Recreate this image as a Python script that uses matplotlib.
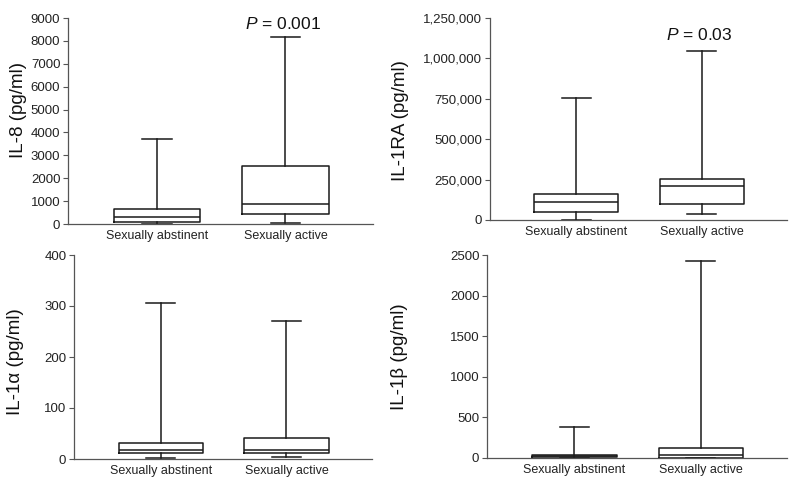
import matplotlib
matplotlib.use("Agg")
import matplotlib.pyplot as plt
from matplotlib.ticker import FuncFormatter, MultipleLocator

plt.rcParams['font.family'] = ['Liberation Sans', 'DejaVu Sans']
plt.rcParams['mathtext.fontset'] = 'custom'
plt.rcParams['mathtext.rm'] = 'Liberation Sans'
plt.rcParams['mathtext.it'] = 'Liberation Sans:italic'

groups = ["Sexually abstinent", "Sexually active"]

# [whislo, q1, median, q3, whishi]
il8_abstinent = [20, 100, 320, 650, 3700]
il8_active = [30, 450, 880, 2540, 8150]
il1ra_abstinent = [0, 50000, 109000, 159000, 755000]
il1ra_active = [36000, 99000, 212000, 254000, 1045000]
il1a_abstinent = [1, 12, 18, 31, 306]
il1a_active = [4.7, 12.5, 18, 41, 270]
il1b_abstinent = [3, 8, 20, 36, 377]
il1b_active = [4, 6, 40, 122, 2420]

ylabels = ["IL-8 (pg/ml)", "IL-1RA (pg/ml)", "IL-1α (pg/ml)", "IL-1β (pg/ml)"]
ymax = [9000, 1250000, 400, 2500]
ystep = [1000, 250000, 100, 500]
pvals = ["$\\it{P}$ = 0.001", "$\\it{P}$ = 0.03", None, None]
p_y = [8730, 1145000, None, None]

panels = [(il8_abstinent, il8_active), (il1ra_abstinent, il1ra_active),
          (il1a_abstinent, il1a_active), (il1b_abstinent, il1b_active)]

W, H = 800, 483
rects = [(68, 373, 224, 18), (490, 787, 220, 18), (74, 372, 459, 255), (487, 787, 458, 255)]
label_xy = [(-0.134, 0.553), (-0.273, 0.49), (-0.168, 0.475), (-0.263, 0.50)]

fig = plt.figure(figsize=(W / 100, H / 100), dpi=100)
line_col = '#1a1a1a'
for i, ((a, b), (l, r, bot, top)) in enumerate(zip(panels, rects)):
    ax = fig.add_axes([l / W, 1 - bot / H, (r - l) / W, (bot - top) / H])
    stats = []
    for vals, name in zip((a, b), groups):
        lo, q1, med, q3, hi = vals
        stats.append(dict(whislo=lo, q1=q1, med=med, q3=q3, whishi=hi, fliers=[], label=name))
    lp = dict(color=line_col, linewidth=1.1)
    ax.bxp(stats, positions=[1, 2], widths=0.67, showfliers=False,
           boxprops=lp, whiskerprops=lp, capprops=lp, medianprops=lp,
           capwidths=0.23)
    ax.set_xlim(0.31, 2.68)
    ax.set_ylim(0, ymax[i])
    ax.yaxis.set_major_locator(MultipleLocator(ystep[i]))
    if i == 1:
        ax.yaxis.set_major_formatter(FuncFormatter(lambda v, p: f"{int(v):,}"))
    for s in ['top', 'right']:
        ax.spines[s].set_visible(False)
    for s in ['left', 'bottom']:
        ax.spines[s].set_color('#555555')
        ax.spines[s].set_linewidth(0.9)
    ax.tick_params(axis='x', length=0, pad=4, labelsize=9, colors='#222222')
    ax.tick_params(axis='y', length=3.5, width=0.8, color='#555555', pad=2,
                   labelsize=9.5, labelcolor='#222222')
    ax.set_ylabel(ylabels[i], fontsize=13.5, color='#111111')
    ax.yaxis.set_label_coords(*label_xy[i])
    if pvals[i]:
        ax.text(1.98, p_y[i], pvals[i], ha='center', va='center', fontsize=12.5,
                color='#111111')

fig.savefig("out.png", dpi=100)
